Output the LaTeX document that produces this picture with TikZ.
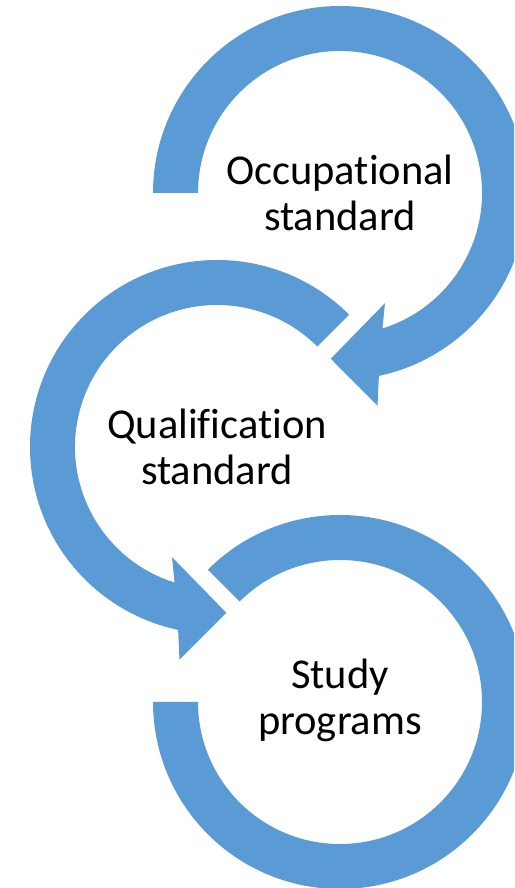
\documentclass[tikz,border=0pt]{standalone}
\usepackage{fontspec}
\setmainfont{Carlito}[Ligatures=NoCommon]
\definecolor{ringblue}{HTML}{5B9BD5}
\tikzset{
  ring/.style={fill=ringblue, draw=none},
  label/.style={align=center, inner sep=0pt, text=black,
    font=\fontsize{42.5}{46}\selectfont}
}
\begin{document}
\begin{tikzpicture}[x=1pt,y=1pt]
\useasboundingbox (0,0) rectangle (514,888);
\clip (0,0) rectangle (514,888);
% circle 1: Occupational standard
\begin{scope}[shift={(340,695)}]
  \fill[ring] (180:187) arc[start angle=180, end angle=-78, radius=187]
    -- (-80:216) -- (-93.2:166) -- (-67.8:119) -- (-72.6:142)
    arc[start angle=-72.6, end angle=180, radius=142] -- cycle;
  \node[label] (occ) at (0,0) {Occupational\\standard};
\end{scope}
% circle 2: Qualification standard
\begin{scope}[shift={(217,441)}]
  \fill[ring] (45:187) arc[start angle=45, end angle=258, radius=187]
    -- (260:216) -- (273.2:166) -- (247.8:119) -- (252.6:142)
    arc[start angle=252.6, end angle=45, radius=142] -- cycle;
  \node[label] (qual) at (0,0) {Qualification\\standard};
\end{scope}
% circle 3: Study programs
\begin{scope}[shift={(340,186)}]
  \fill[ring] (135:187) arc[start angle=135, end angle=-180, radius=187]
    -- (-180:142) arc[start angle=-180, end angle=135, radius=142] -- cycle;
  \node[label] (study) at (0,2) {Study\\programs};
\end{scope}
\end{tikzpicture}
\end{document}
